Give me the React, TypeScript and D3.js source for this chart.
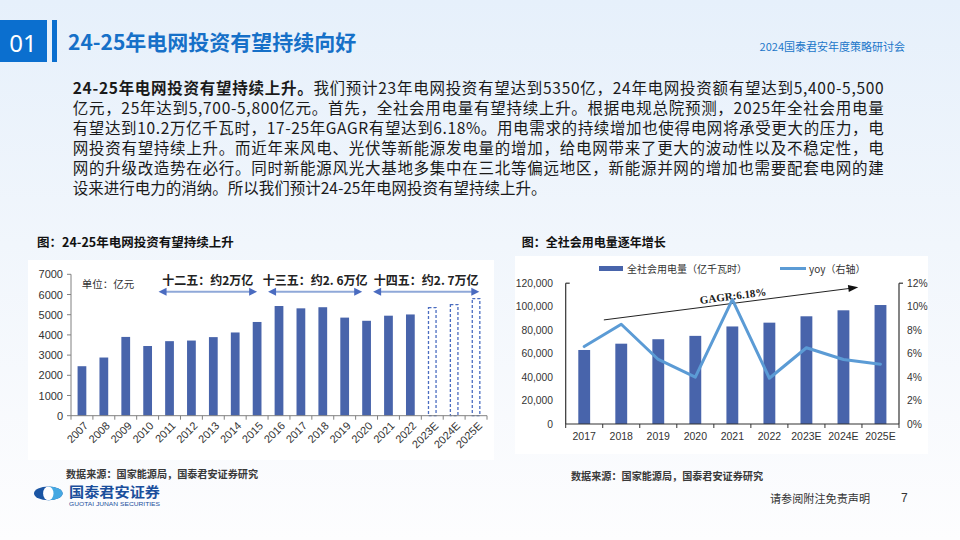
import React from 'react';
import * as d3 from 'd3';

// ---------- data ----------
const investYears = ['2007','2008','2009','2010','2011','2012','2013','2014','2015','2016','2017','2018','2019','2020','2021','2022','2023E','2024E','2025E'];
const investValues = [2450, 2880, 3900, 3450, 3690, 3720, 3890, 4120, 4640, 5430, 5315, 5370, 4856, 4699, 4951, 5012, 5350, 5500, 5800];
const investTicks = [0, 1000, 2000, 3000, 4000, 5000, 6000, 7000];
const periodLabels = ['十二五：约2万亿', '十三五：约2. 6万亿', '十四五：约2. 7万亿'];
const periodSpans = [[4.0, 8.5], [9.0, 13.3], [13.8, 18.65]]; // category units

const powerYears = ['2017','2018','2019','2020','2021','2022','2023E','2024E','2025E'];
const powerValues = [63077, 68449, 72255, 75110, 83128, 86372, 91800, 96900, 101400];
const yoyValues = [6.6, 8.5, 5.5, 4.0, 10.6, 3.9, 6.5, 5.5, 5.1];
const powerTicks = [0, 20000, 40000, 60000, 80000, 100000, 120000];
const yoyTicks = [0, 2, 4, 6, 8, 10, 12];
const gagrFrom = { cat: 1.03, value: 88700 };
const gagrTo = { cat: 7.9, value: 116500 };

const paragraphLines = [
  '我们预计23年电网投资有望达到5350亿，24年电网投资额有望达到5,400-5,500',
  '亿元，25年达到5,700-5,800亿元。首先，全社会用电量有望持续上升。根据电规总院预测，2025年全社会用电量',
  '有望达到10.2万亿千瓦时，17-25年GAGR有望达到6.18%。用电需求的持续增加也使得电网将承受更大的压力，电',
  '网投资有望持续上升。而近年来风电、光伏等新能源发电量的增加，给电网带来了更大的波动性以及不稳定性，电',
  '网的升级改造势在必行。同时新能源风光大基地多集中在三北等偏远地区，新能源并网的增加也需要配套电网的建',
  '设来进行电力的消纳。所以我们预计24-25年电网投资有望持续上升。',
];

const CJK = '"Noto Sans CJK SC", "Noto Sans", sans-serif';
const SANS = '"Liberation Sans", Arial, sans-serif';
const BAR = '#4864ab';
const LINE = '#5b9bd5';

export default function App() {
  // ----- left chart -----
  const xL = d3.scaleBand<string>().domain(investYears).range([71, 487]).paddingInner(0.6).paddingOuter(0.3);
  const yL = d3.scaleLinear().domain([0, 7000]).range([415.7, 274.3]);
  const catL = (k: number) => xL.range()[0] + k * xL.step();

  // ----- right chart -----
  const xR = d3.scaleBand<string>().domain(powerYears).range([565.7, 899]).paddingInner(0.68).paddingOuter(0.34);
  const yR = d3.scaleLinear().domain([0, 120000]).range([424, 283.2]);
  const yY = d3.scaleLinear().domain([0, 12]).range([424, 283.2]);
  const catR = (k: number) => xR.range()[0] + k * xR.step();
  const yoyLine = d3.line<number>()
    .x((_, i) => (xR(powerYears[i]) as number) + xR.bandwidth() / 2)
    .y(d => yY(d));

  const gx1 = catR(gagrFrom.cat), gy1 = yR(gagrFrom.value);
  const gx2 = catR(gagrTo.cat), gy2 = yR(gagrTo.value);
  const gAngle = Math.atan2(gy2 - gy1, gx2 - gx1) * 180 / Math.PI;
  const gmx = (gx1 + gx2) / 2 + 3, gmy = (gy1 + gy2) / 2;

  const leftTicksK = d3.range(investYears.length + 1);
  const rightTicksK = d3.range(powerYears.length + 1);

  return (
    <svg width={960} height={540} style={{ position: 'absolute', left: 0, top: 0, display: 'block' }}>
      <defs>
        <linearGradient id="bg" x1="0" y1="0" x2="0" y2="1">
          <stop offset="0" stopColor="#e6f0fb" />
          <stop offset="0.45" stopColor="#f1f6fc" />
          <stop offset="1" stopColor="#fdfdfe" />
        </linearGradient>
        <clipPath id="logoRight"><rect x={48} y={480} width={20} height={30} /></clipPath>
      </defs>
      <rect x={0} y={0} width={960} height={540} fill="url(#bg)" />

      {/* header */}
      <rect x={0} y={20} width={47} height={42} fill="#0b6fcf" />
      <text x={23} y={42} fill="#fff" fontFamily='"Noto Sans", sans-serif' fontSize={24} textAnchor="middle" dominantBaseline="central">01</text>
      <rect x={52} y={20} width={5} height={42} fill="#0b6fcf" />
      <text x={68} y={41} fill="#1670c8" fontFamily={CJK} fontWeight={700} fontSize={21} dominantBaseline="central">24-25年电网投资有望持续向好</text>
      <text x={905} y={46} fill="#2176c9" fontFamily={CJK} fontSize={11} textAnchor="end" dominantBaseline="central">2024国泰君安年度策略研讨会</text>

      {/* paragraph */}
      <g fontFamily={CJK} fontSize={15.5} fill="#1a1a1a">
        {paragraphLines.map((ln, i) => (
          <text key={i} x={72.7} y={86.5 + i * 20} dominantBaseline="central"
            {...(i < paragraphLines.length - 1 ? { textLength: 811, lengthAdjust: 'spacing' } : {})}>
            {i === 0 && <tspan fontWeight={700}>24-25年电网投资有望持续上升。</tspan>}
            <tspan>{ln}</tspan>
          </text>
        ))}
      </g>

      {/* chart titles */}
      <text x={37} y={241.7} fontFamily={CJK} fontWeight={700} fontSize={12.5} fill="#111" dominantBaseline="central">图：24-25年电网投资有望持续上升</text>
      <text x={521.7} y={241.7} fontFamily={CJK} fontWeight={700} fontSize={12} fill="#111" dominantBaseline="central">图：全社会用电量逐年增长</text>

      {/* panels */}
      <rect x={28} y={260} width={466} height={200} fill="#fff" />
      <rect x={515} y={256} width={413} height={198} fill="#fff" />

      {/* ===== left chart ===== */}
      <g>
        {investValues.map((v, i) => {
          const yr = investYears[i];
          const fc = yr.endsWith('E');
          const x = xL(yr) as number;
          return fc ? (
            <rect key={yr} x={x + 0.6} y={yL(v)} width={xL.bandwidth() - 1.2} height={yL(0) - yL(v)}
              fill="#fff" stroke="#4a6cc0" strokeWidth={1.3} strokeDasharray="3 2" />
          ) : (
            <rect key={yr} x={x} y={yL(v)} width={xL.bandwidth()} height={yL(0) - yL(v)} fill={BAR} />
          );
        })}
        <line x1={71} x2={71} y1={yL(7000)} y2={yL(0)} stroke="#808080" />
        {investTicks.map(t => (
          <g key={t}>
            <line x1={67} x2={71} y1={yL(t)} y2={yL(t)} stroke="#808080" />
            <text x={63} y={yL(t)} fontFamily={SANS} fontSize={11} fill="#333" textAnchor="end" dominantBaseline="central">{t}</text>
          </g>
        ))}
        <line x1={71} x2={487} y1={yL(0)} y2={yL(0)} stroke="#808080" />
        {leftTicksK.map(k => (
          <line key={k} x1={catL(k)} x2={catL(k)} y1={yL(0)} y2={yL(0) + 4} stroke="#808080" />
        ))}
        {investYears.map(yr => {
          const cx = (xL(yr) as number) + xL.bandwidth() / 2;
          return (
            <text key={yr} transform={`translate(${cx + 4},${yL(0) + 8}) rotate(-45)`} fontFamily={SANS} fontSize={11}
              fill="#333" textAnchor="end" dominantBaseline="central">{yr}</text>
          );
        })}
        <text x={81.7} y={283} fontFamily={CJK} fontSize={10.5} fill="#333" dominantBaseline="central">单位：亿元</text>
        {periodSpans.map((s, i) => {
          const a = catL(s[0]), b = catL(s[1]);
          const ay = 291.7;
          return (
            <g key={i}>
              <line x1={a + 7} x2={b - 7} y1={ay} y2={ay} stroke="#8fa8d8" strokeWidth={2} />
              <path d={`M${a},${ay} L${a + 8},${ay - 4} L${a + 8},${ay + 4} Z`} fill="#4a6bc0" />
              <path d={`M${b},${ay} L${b - 8},${ay - 4} L${b - 8},${ay + 4} Z`} fill="#4a6bc0" />
              <text x={(a + b) / 2} y={279.3} fontFamily={CJK} fontWeight={700} fontSize={12} fill="#222"
                textAnchor="middle" dominantBaseline="central">{periodLabels[i]}</text>
            </g>
          );
        })}
      </g>

      {/* ===== right chart ===== */}
      <g>
        {/* legend */}
        <rect x={599} y={266} width={24} height={5} fill={BAR} />
        <text x={627} y={268.5} fontFamily={CJK} fontSize={10} fill="#333" dominantBaseline="central">全社会用电量（亿千瓦时）</text>
        <line x1={780} x2={806} y1={268.5} y2={268.5} stroke={LINE} strokeWidth={3} />
        <text x={809} y={268.5} fontFamily={CJK} fontSize={10} fill="#333" dominantBaseline="central">yoy（右轴）</text>

        {powerValues.map((v, i) => (
          <rect key={powerYears[i]} x={xR(powerYears[i]) as number} y={yR(v)} width={xR.bandwidth()} height={yR(0) - yR(v)} fill={BAR} />
        ))}

        {/* axes */}
        <line x1={565.7} x2={565.7} y1={yR(120000)} y2={yR(0)} stroke="#333" strokeWidth={1.2} />
        <line x1={565.7} x2={569.7} y1={yR(120000)} y2={yR(120000)} stroke="#333" strokeWidth={1.2} />
        <line x1={899} x2={899} y1={yY(12)} y2={yY(0)} stroke="#333" strokeWidth={1.2} />
        <line x1={899} x2={903} y1={yY(12)} y2={yY(12)} stroke="#333" strokeWidth={1.2} />
        <line x1={565.7} x2={899} y1={yR(0)} y2={yR(0)} stroke="#333" strokeWidth={1.2} />
        {rightTicksK.map(k => (
          <line key={k} x1={catR(k)} x2={catR(k)} y1={yR(0)} y2={yR(0) + 4} stroke="#333" />
        ))}
        {powerTicks.map(t => (
          <text key={t} x={553} y={yR(t)} fontFamily={SANS} fontSize={10.3} fill="#333" textAnchor="end" dominantBaseline="central">{d3.format(',')(t)}</text>
        ))}
        {yoyTicks.map(t => (
          <text key={t} x={907} y={yY(t)} fontFamily={SANS} fontSize={10.3} fill="#333" dominantBaseline="central">{t}%</text>
        ))}
        {powerYears.map(yr => (
          <text key={yr} x={(xR(yr) as number) + xR.bandwidth() / 2} y={435.7} fontFamily={SANS} fontSize={10.5} fill="#333"
            textAnchor="middle" dominantBaseline="central">{yr}</text>
        ))}

        {/* GAGR arrow */}
        <line x1={gx1} y1={gy1} x2={gx2 - 8} y2={gy2 + 8 * Math.tan(-gAngle * Math.PI / 180)} stroke="#222" strokeWidth={1} />
        <g transform={`translate(${gx2},${gy2}) rotate(${gAngle})`}>
          <path d="M0,0 L-10,-3.5 L-10,3.5 Z" fill="#111" />
        </g>
        <text transform={`translate(${gmx},${gmy}) rotate(${gAngle})`} y={-4} fontFamily='"Liberation Serif", "Times New Roman", serif'
          fontWeight={700} fontSize={11} fill="#222" textAnchor="middle">GAGR:6.18%</text>

        {/* yoy line */}
        <path d={yoyLine(yoyValues) as string} fill="none" stroke={LINE} strokeWidth={3} strokeLinejoin="round" strokeLinecap="round" />
      </g>

      {/* footnotes */}
      <text x={66} y={473.3} fontFamily={CJK} fontWeight={700} fontSize={10.5} fill="#3a3a3a" dominantBaseline="central" textLength={192} lengthAdjust="spacingAndGlyphs">数据来源：国家能源局，国泰君安证券研究</text>
      <text x={571} y={475} fontFamily={CJK} fontWeight={700} fontSize={10.5} fill="#3a3a3a" dominantBaseline="central" textLength={192} lengthAdjust="spacingAndGlyphs">数据来源：国家能源局，国泰君安证券研究</text>

      {/* logo */}
      <g>
        <ellipse cx={48.3} cy={493.4} rx={14.3} ry={6.8} fill="#1b55a3" />
        <ellipse cx={48.3} cy={493.4} rx={14.3} ry={6.8} fill="#45a8e2" clipPath="url(#logoRight)" />
        <ellipse cx={48.3} cy={493.4} rx={5.2} ry={6.8} fill="#fff" />
        <text x={69} y={491} fontFamily={CJK} fontWeight={700} fontSize={13.5} fill="#1b4f9c" dominantBaseline="central" textLength={91} lengthAdjust="spacingAndGlyphs">国泰君安证券</text>
        <text x={69} y={504} fontFamily={SANS} fontSize={5.5} fill="#1b4f9c" dominantBaseline="central" textLength={91} lengthAdjust="spacingAndGlyphs">GUOTAI JUNAN SECURITIES</text>
      </g>
      <text x={770} y={497.7} fontFamily={CJK} fontSize={11.5} fill="#333" dominantBaseline="central" textLength={100} lengthAdjust="spacingAndGlyphs">请参阅附注免责声明</text>
      <text x={901} y={497.7} fontFamily={SANS} fontSize={12} fill="#333" dominantBaseline="central">7</text>
    </svg>
  );
}
